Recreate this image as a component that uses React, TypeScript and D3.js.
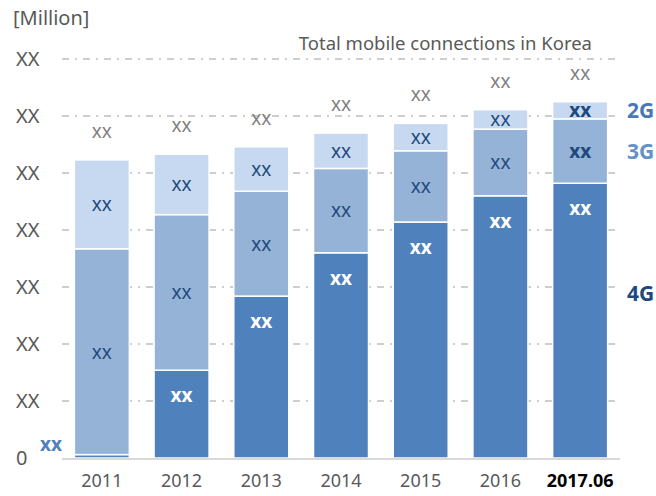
import React, { useEffect, useRef } from 'react';
import * as d3 from 'd3';

const years = ['2011', '2012', '2013', '2014', '2015', '2016', '2017.06'];
const g4 = [0.6, 15.4, 28.4, 36.0, 41.4, 46.0, 48.2];
const g3 = [36.1, 27.3, 18.4, 14.8, 12.5, 11.7, 11.3];
const g2 = [15.6, 10.6, 7.8, 6.2, 4.8, 3.4, 3.0];
const yTicks = [0, 10, 20, 30, 40, 50, 60, 70];
const yTickLabels = ['0', 'XX', 'XX', 'XX', 'XX', 'XX', 'XX', 'XX'];
const seriesNames = ['4G', '3G', '2G'];

const FONT = '"Noto Sans", "Open Sans", sans-serif';

export default function App() {
  const svgRef = useRef<SVGSVGElement>(null);

  useEffect(() => {
    if (!svgRef.current) return;
    const width = 656;
    const height = 496;
    const margin = { top: 59, right: 36, bottom: 38, left: 62 };

    const svg = d3.select(svgRef.current);
    svg.selectAll('*').remove();
    svg.attr('viewBox', `0 0 ${width} ${height}`);

    const x = d3.scaleBand()
      .domain(years)
      .range([margin.left, width - margin.right])
      .paddingInner(0.31)
      .paddingOuter(0.155);

    const y = d3.scaleLinear()
      .domain([0, 70])
      .range([height - margin.bottom, margin.top]);

    // gridlines (dash-dot)
    svg.append('g')
      .selectAll('line')
      .data(yTicks.slice(1))
      .join('line')
      .attr('x1', margin.left)
      .attr('x2', width - margin.right)
      .attr('y1', d => y(d))
      .attr('y2', d => y(d))
      .attr('stroke', '#bfbfbf')
      .attr('stroke-width', 1.5)
      .attr('stroke-dasharray', '7 6 2 6');

    // y tick labels
    svg.append('g')
      .selectAll('text')
      .data(yTicks)
      .join('text')
      .attr('x', 16)
      .attr('y', d => y(d))
      .attr('dy', '0.36em')
      .style('font-family', FONT)
      .style('font-size', '20px')
      .style('fill', '#595959')
      .text((d, i) => yTickLabels[i]);

    const data = years.map((yr, i) => ({ year: yr, '4G': g4[i], '3G': g3[i], '2G': g2[i] }));
    const stack = d3.stack<any>().keys(seriesNames);
    const series = stack(data);
    const colors: Record<string, string> = { '4G': '#4f81bd', '3G': '#95b3d7', '2G': '#c6d9f0' };

    svg.append('g')
      .selectAll('g')
      .data(series)
      .join('g')
      .attr('fill', s => colors[s.key])
      .selectAll('rect')
      .data(s => s)
      .join('rect')
      .attr('x', d => x(d.data.year)!)
      .attr('width', x.bandwidth())
      .attr('y', d => y(d[1]))
      .attr('height', d => y(d[0]) - y(d[1]))
      .attr('stroke', '#ffffff')
      .attr('stroke-width', 1.5);

    // baseline
    svg.append('line')
      .attr('x1', margin.left)
      .attr('x2', width - margin.right)
      .attr('y1', y(0) + 1)
      .attr('y2', y(0) + 1)
      .attr('stroke', '#d9d9d9')
      .attr('stroke-width', 2);

    // segment labels
    const labels = svg.append('g').style('font-family', FONT).attr('text-anchor', 'middle');
    series.forEach(s => {
      s.forEach((d, i) => {
        const cx = x(d.data.year)! + x.bandwidth() / 2;
        const last = i === years.length - 1;
        if (s.key === '4G') {
          if (i === 0) {
            labels.append('text')
              .attr('x', margin.left - 11)
              .attr('y', y(d[1]) - 10)
              .attr('dy', '0.36em')
              .style('font-size', '19px')
              .style('font-weight', 'bold')
              .style('fill', '#4f81bd')
              .text('xx');
          } else {
            labels.append('text')
              .attr('x', cx)
              .attr('y', y(d[1]) + 25)
              .attr('dy', '0.36em')
              .style('font-size', '19px')
              .style('font-weight', 'bold')
              .style('fill', '#ffffff')
              .text('xx');
          }
        } else {
          labels.append('text')
            .attr('x', cx)
            .attr('y', (y(d[0]) + y(d[1])) / 2)
            .attr('dy', '0.36em')
            .style('font-size', '19px')
            .style('font-weight', last ? 'bold' : 'normal')
            .style('fill', '#1f497d')
            .text('xx');
        }
      });
    });

    // totals
    labels.selectAll('text.total')
      .data(data)
      .join('text')
      .attr('class', 'total')
      .attr('x', d => x(d.year)! + x.bandwidth() / 2)
      .attr('y', d => y(d['4G'] + d['3G'] + d['2G']) - 29)
      .attr('dy', '0.36em')
      .style('font-size', '19px')
      .style('fill', '#7f7f7f')
      .text('xx');

    // x labels
    svg.append('g')
      .selectAll('text')
      .data(years)
      .join('text')
      .attr('x', d => x(d)! + x.bandwidth() / 2)
      .attr('y', y(0) + 23)
      .attr('dy', '0.36em')
      .attr('text-anchor', 'middle')
      .style('font-family', FONT)
      .style('font-size', '18px')
      .style('font-weight', (d, i) => (i === years.length - 1 ? 'bold' : 'normal'))
      .style('fill', (d, i) => (i === years.length - 1 ? '#000000' : '#595959'))
      .text(d => d);

    // series labels on the right
    const lastI = years.length - 1;
    const legendY: Record<string, number> = {
      '2G': y(g4[lastI] + g3[lastI] + g2[lastI] / 2),
      '3G': y(g4[lastI] + g3[lastI] / 2),
      '4G': y(g4[lastI] * 0.6),
    };
    const legendColor: Record<string, string> = { '2G': '#4a78b5', '3G': '#6590c6', '4G': '#1f497d' };
    svg.append('g')
      .selectAll('text')
      .data(seriesNames)
      .join('text')
      .attr('x', 627)
      .attr('y', d => legendY[d])
      .attr('dy', '0.36em')
      .style('font-family', FONT)
      .style('font-size', '21px')
      .style('font-weight', 'bold')
      .style('fill', d => legendColor[d])
      .text(d => d);

    // titles
    svg.append('text')
      .attr('x', 13)
      .attr('y', 25)
      .style('font-family', FONT)
      .style('font-size', '20px')
      .style('fill', '#595959')
      .text('[Million]');

    svg.append('text')
      .attr('x', 592)
      .attr('y', 50)
      .attr('text-anchor', 'end')
      .style('font-family', FONT)
      .style('font-size', '18.5px')
      .style('fill', '#595959')
      .text('Total mobile connections in Korea');
  }, []);

  return (
    <svg
      ref={svgRef}
      width={656}
      height={496}
      style={{ position: 'absolute', left: 0, top: 0, background: '#ffffff' }}
    />
  );
}
